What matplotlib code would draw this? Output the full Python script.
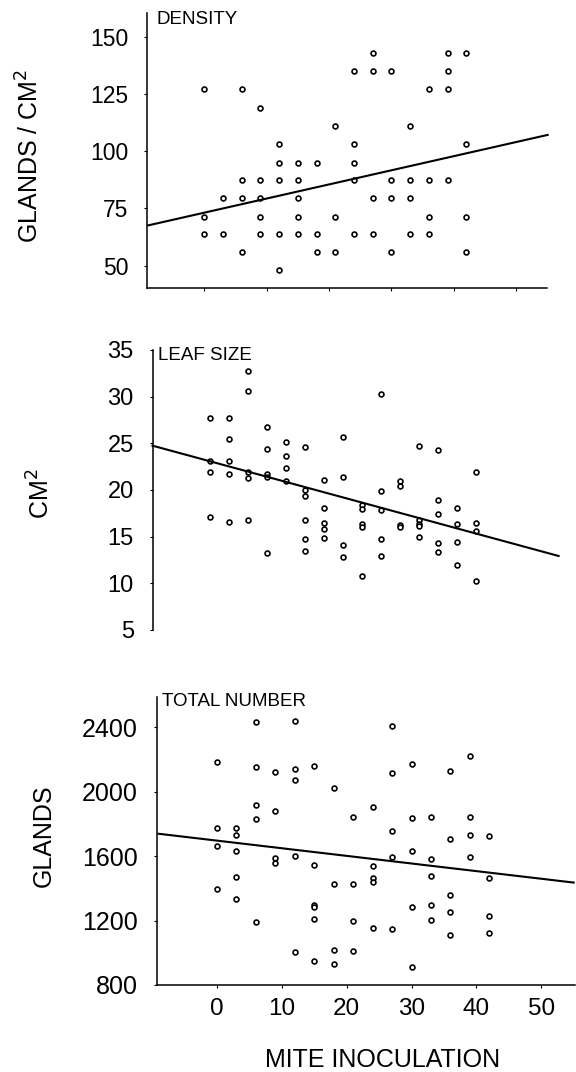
import numpy as np
import matplotlib
matplotlib.use("Agg")
import matplotlib.pyplot as plt

plt.rcParams['font.family'] = ['Liberation Sans', 'DejaVu Sans']

# mite inoculation levels (x) shared by the three panels
x_levels = [0, 3, 6, 9, 12, 15, 18, 21, 24, 27, 30, 33, 36, 39, 42]

# DENSITY: glands / cm2, one list per inoculation level
density = [
    [127, 71.5, 64],
    [79.5, 64],
    [127, 87.5, 79.5, 56],
    [119, 87.5, 79.5, 71.5, 64],
    [103, 95, 87.5, 64, 48],
    [95, 87.5, 79.5, 71.5, 64],
    [95, 64, 56],
    [111, 71.5, 56],
    [135, 103, 95, 87.5, 64],
    [143, 135, 79.5, 64],
    [135, 87.5, 79.5, 56],
    [111, 87.5, 79.5, 64],
    [127, 87.5, 71.5, 64],
    [143, 135, 127, 87.5],
    [143, 103, 71.5, 56],
]

# LEAF SIZE: cm2
leaf_size = [
    [27.75, 23.1, 21.9, 17.1],
    [27.75, 25.5, 23.1, 21.7, 16.6],
    [32.8, 30.6, 21.9, 21.3, 16.8],
    [26.7, 24.4, 21.7, 21.4, 13.3],
    [25.1, 23.6, 22.4, 21.0],
    [24.6, 20.0, 19.4, 16.8, 14.8, 13.5],
    [21.1, 18.1, 16.5, 15.8, 14.9],
    [25.7, 21.4, 14.1, 12.8],
    [18.4, 18.0, 16.4, 16.0, 10.8],
    [30.3, 19.9, 17.9, 14.75, 12.9],
    [21.0, 20.4, 16.25, 16.0],
    [24.75, 16.8, 16.4, 16.1, 15.0],
    [24.25, 18.9, 17.4, 14.3, 13.4],
    [18.1, 16.4, 14.4, 12.0],
    [21.9, 16.5, 15.6, 10.25],
]

# TOTAL NUMBER: glands per leaf
total_number = [
    [2184, 1772, 1660, 1395],
    [1772, 1731, 1631, 1472, 1331],
    [2433, 2153, 1917, 1828, 1192],
    [2122, 1878, 1590, 1559],
    [2439, 2139, 2073, 1600, 1007],
    [2162, 1548, 1295, 1283, 1212, 947],
    [2025, 1426, 1018, 929],
    [1845, 1430, 1196, 1013],
    [1907, 1536, 1463, 1440, 1157],
    [2410, 2116, 1758, 1592, 1148],
    [2170, 1838, 1629, 1287, 912],
    [1845, 1583, 1476, 1295, 1204],
    [2128, 1706, 1360, 1256, 1111],
    [2220, 1840, 1731, 1594],
    [1726, 1467, 1227, 1125],
]

# regression lines: (value at x=-9, value at x=55)
fit_density = (67.6, 107.1)
fit_leaf = (24.75, 12.93)
fit_total = (1739, 1436)

W, H = 576, 1072
fig = plt.figure(figsize=(W / 100, H / 100), dpi=100)


def px_axes(left, right, top, bottom):
    return fig.add_axes([left / W, 1 - bottom / H, (right - left) / W, (bottom - top) / H])


def flat(groups):
    xs, ys = [], []
    for xv, g in zip(x_levels, groups):
        xs += [xv] * len(g)
        ys += g
    return xs, ys


def panel(ax, groups, fit, xlim, ylim, yticks, ysize):
    xs, ys = flat(groups)
    ax.plot(xs, ys, 'o', ms=3.5, mfc='white', mec='black', mew=1.2, clip_on=False)
    ax.plot([-9, 55], list(fit), color='black', lw=1.5, clip_on=False)
    ax.set_xlim(*xlim)
    ax.set_ylim(*ylim)
    ax.set_yticks(yticks)
    for s in ['top', 'right']:
        ax.spines[s].set_visible(False)
    for s in ['left', 'bottom']:
        ax.spines[s].set_linewidth(1.1)
    ax.tick_params(axis='y', length=2.5, width=0.8, pad=11, labelsize=ysize)
    ax.tick_params(axis='x', length=2.5, width=0.8, pad=7, labelsize=17.5)


ax1 = px_axes(147.3, 547, 13, 288)
panel(ax1, density, fit_density, (-9.1, 54.9), (40.3, 160.3), [50, 75, 100, 125, 150], 16.5)
ax1.set_xticks([0, 10, 20, 30, 40, 50])
ax1.set_xticklabels([])

ax2 = px_axes(152.5, 558.6, 350, 630)
panel(ax2, leaf_size, fit_leaf, (-9.0, 55.0), (5, 35), [5, 10, 15, 20, 25, 30, 35], 17)
ax2.spines['bottom'].set_visible(False)
ax2.set_xticks([])

ax3 = px_axes(156.7, 575, 696.7, 985)
panel(ax3, total_number, fit_total, (-9.3, 55.2), (800, 2590), [800, 1200, 1600, 2000, 2400], 18)
ax3.set_xticks([0, 10, 20, 30, 40, 50])


def ftext(x, y, s, **kw):
    fig.text(x / W, 1 - y / H, s, **kw)


ftext(157, 20, 'DENSITY', fontsize=13.5, va='center', ha='left')
ftext(158, 355, 'LEAF SIZE', fontsize=13.5, va='center', ha='left')
ftext(162, 701, 'TOTAL NUMBER', fontsize=13.5, va='center', ha='left')

ftext(30, 156, 'GLANDS / CM$^2$', fontsize=18, rotation=90, va='center', ha='center')
ftext(41, 494, 'CM$^2$', fontsize=18, rotation=90, va='center', ha='center')
ftext(44, 836, 'GLANDS', fontsize=18, rotation=90, va='center', ha='center')
ftext(383, 1060, 'MITE INOCULATION', fontsize=18, va='center', ha='center')

fig.savefig('out.png', dpi=100)
